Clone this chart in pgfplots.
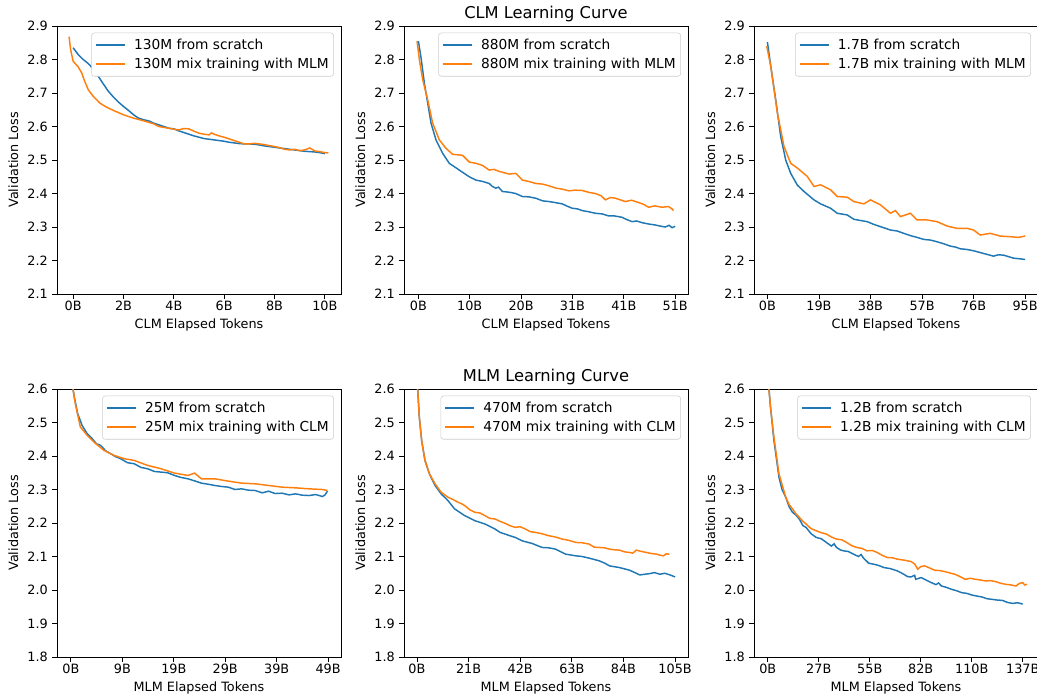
\documentclass[border=0pt]{standalone}
\usepackage{fontspec}
\setmainfont{DejaVu Sans}
\usepackage{pgfplots}
\pgfplotsset{compat=1.18}
\definecolor{tabblue}{HTML}{1F77B4}
\definecolor{taborange}{HTML}{FF7F0E}
\newcommand{\tickfont}{\fontsize{9.6}{11}\selectfont}
\newcommand{\legfont}{\fontsize{10.3}{12}\selectfont}

\pgfplotsset{
  panel/.style={
    scale only axis, width=213pt, height=201pt,
    axis line style={line width=0.6pt},
    tick align=outside, tick pos=left, major tick length=3.4pt,
    every tick/.style={black, line width=0.6pt},
    xtick={0,1,2,3,4,5},
    ylabel={Validation Loss},
    ticklabel style={font=\tickfont},
    xticklabel style={yshift=1.8pt},
    label style={font=\tickfont},
    xlabel style={yshift=0.6pt},
    /pgf/number format/assume math mode=true,
    yticklabel style={/pgf/number format/.cd, fixed, fixed zerofill, precision=1},
    title style={font=\fontsize{12.2}{14}\selectfont, yshift=-6.5pt},
    legend cell align=left,
    legend image code/.code={\draw[#1, line width=1.4pt] (0pt,0pt) -- (22pt,0pt); \path (27pt,0pt);},
    legend style={font=\legfont, draw=black!20, rounded corners=2pt, fill=white,
      at={(0.975,0.975)}, anchor=north east, inner xsep=2.5pt, inner ysep=3pt,
      row sep=3pt, nodes={inner sep=1.2pt}},
  },
  clmrow/.style={ymin=2.1, ymax=2.9, ytick={2.1,2.2,2.3,2.4,2.5,2.6,2.7,2.8,2.9},
    xlabel={CLM Elapsed Tokens}},
  mlmrow/.style={ymin=1.8, ymax=2.6, ytick={1.8,1.9,2.0,2.1,2.2,2.3,2.4,2.5,2.6},
    xlabel={MLM Elapsed Tokens}},
}
\tikzset{
  sblue/.style={draw=tabblue, color=tabblue, line width=1.1pt},
  sorange/.style={draw=taborange, color=taborange, line width=1.1pt},
}

\begin{document}
\begin{tikzpicture}
\path[use as bounding box] (0,0) rectangle (777.75pt,-520.5pt);

% ---- CLM row ----
\begin{axis}[panel, clmrow, at={(42.75pt,-19.5pt)}, anchor=north west,
  xmin=-0.32, xmax=5.32, xticklabels={0B,2B,4B,6B,8B,10B}]
\addplot[sblue, no marks] coordinates {
(0.00,2.835) (0.05,2.825) (0.10,2.815) (0.20,2.800) (0.30,2.788) (0.40,2.772) (0.50,2.750)
(0.60,2.727) (0.70,2.705) (0.80,2.688) (0.90,2.673) (1.00,2.660) (1.10,2.648) (1.20,2.635)
(1.30,2.625) (1.40,2.620) (1.50,2.617) (1.60,2.610) (1.70,2.605) (1.80,2.600) (1.90,2.595)
(2.00,2.593) (2.10,2.587) (2.20,2.582) (2.30,2.577) (2.40,2.572) (2.50,2.568) (2.60,2.564)
(2.70,2.562) (2.80,2.560) (2.90,2.558) (3.00,2.556) (3.10,2.553) (3.20,2.551) (3.30,2.549)
(3.40,2.548) (3.50,2.548) (3.60,2.547) (3.70,2.545) (3.80,2.542) (3.90,2.540) (4.00,2.538)
(4.10,2.536) (4.20,2.534) (4.30,2.532) (4.40,2.530) (4.50,2.528) (4.60,2.526) (4.70,2.525)
(4.80,2.524) (4.90,2.522) (5.00,2.519)
};
\addlegendentry{130M from scratch}
\addplot[sorange, no marks] coordinates {
(-0.08,2.868) (-0.05,2.830) (0.00,2.795) (0.10,2.778) (0.17,2.760) (0.23,2.735) (0.30,2.710)
(0.40,2.690) (0.53,2.670) (0.66,2.658) (0.80,2.648) (1.00,2.635) (1.20,2.625) (1.40,2.617)
(1.60,2.608) (1.70,2.600) (1.85,2.596) (2.00,2.592) (2.10,2.590) (2.20,2.594) (2.30,2.593)
(2.40,2.586) (2.50,2.580) (2.60,2.577) (2.70,2.575) (2.75,2.581) (2.80,2.577) (2.90,2.572)
(3.00,2.568) (3.10,2.563) (3.20,2.558) (3.30,2.553) (3.40,2.548) (3.50,2.548) (3.60,2.550)
(3.70,2.548) (3.80,2.546) (3.90,2.543) (4.00,2.540) (4.10,2.537) (4.20,2.532) (4.30,2.530)
(4.40,2.532) (4.50,2.528) (4.60,2.530) (4.70,2.536) (4.80,2.527) (4.90,2.525) (5.00,2.522)
(5.07,2.521)
};
\addlegendentry{130M mix training with MLM}
\end{axis}

\begin{axis}[panel, clmrow, at={(303pt,-19.5pt)}, anchor=north west,
  xmin=-0.28, xmax=5.25, xticklabels={0B,10B,20B,31B,41B,51B},
  title={CLM Learning Curve}]
\addplot[sblue, no marks] coordinates {
(0.000,2.855) (0.052,2.805) (0.116,2.730) (0.181,2.670) (0.246,2.610) (0.343,2.560)
(0.472,2.520) (0.602,2.490) (0.796,2.470) (0.990,2.450) (1.119,2.440) (1.250,2.436)
(1.378,2.430) (1.440,2.421) (1.507,2.416) (1.560,2.419) (1.636,2.406) (1.760,2.404)
(1.895,2.400) (2.025,2.391) (2.150,2.390) (2.283,2.386) (2.420,2.378) (2.542,2.376)
(2.660,2.373) (2.801,2.369) (2.900,2.362) (2.995,2.356) (3.100,2.354) (3.189,2.349)
(3.300,2.346) (3.448,2.341) (3.580,2.339) (3.706,2.333) (3.820,2.333) (3.965,2.329)
(4.060,2.322) (4.159,2.316) (4.250,2.318) (4.353,2.313) (4.480,2.309) (4.612,2.306)
(4.700,2.303) (4.806,2.300) (4.880,2.305) (4.940,2.298) (5.000,2.302)
};
\addlegendentry{880M from scratch}
\addplot[sorange, no marks] coordinates {
(-0.026,2.855) (0.019,2.800) (0.084,2.740) (0.181,2.680) (0.278,2.610) (0.408,2.560)
(0.537,2.535) (0.666,2.517) (0.860,2.514) (0.990,2.494) (1.120,2.490) (1.248,2.484)
(1.378,2.470) (1.472,2.472) (1.572,2.466) (1.766,2.458) (1.895,2.460) (2.025,2.440)
(2.150,2.436) (2.283,2.430) (2.420,2.428) (2.542,2.423) (2.680,2.416) (2.801,2.413)
(2.930,2.408) (3.060,2.410) (3.189,2.409) (3.330,2.403) (3.448,2.400) (3.560,2.393)
(3.642,2.381) (3.740,2.388) (3.836,2.386) (4.030,2.376) (4.150,2.380) (4.289,2.373)
(4.380,2.368) (4.483,2.359) (4.600,2.363) (4.741,2.359) (4.871,2.361) (4.930,2.355)
(4.968,2.349)
};
\addlegendentry{880M mix training with MLM}
\end{axis}

\begin{axis}[panel, clmrow, at={(565.5pt,-19.5pt)}, anchor=north west,
  xmin=-0.26, xmax=5.25, xticklabels={0B,19B,38B,57B,76B,95B}]
\addplot[sblue, no marks] coordinates {
(0.000,2.852) (0.065,2.780) (0.161,2.680) (0.258,2.570) (0.355,2.500) (0.452,2.460)
(0.581,2.425) (0.710,2.406) (0.903,2.381) (1.032,2.369) (1.226,2.356) (1.355,2.341)
(1.548,2.336) (1.677,2.323) (1.935,2.316) (2.060,2.308) (2.194,2.301) (2.387,2.291)
(2.520,2.288) (2.645,2.281) (2.780,2.274) (2.903,2.269) (3.032,2.263) (3.160,2.261)
(3.290,2.256) (3.420,2.250) (3.548,2.243) (3.650,2.240) (3.742,2.235) (3.870,2.233)
(4.000,2.229) (4.194,2.221) (4.387,2.213) (4.480,2.217) (4.581,2.216) (4.774,2.207)
(4.900,2.205) (5.000,2.203)
};
\addlegendentry{1.7B from scratch}
\addplot[sorange, no marks] coordinates {
(-0.013,2.840) (0.065,2.780) (0.194,2.640) (0.323,2.540) (0.452,2.490) (0.581,2.476)
(0.774,2.451) (0.903,2.421) (1.032,2.426) (1.226,2.411) (1.355,2.391) (1.548,2.389)
(1.677,2.376) (1.871,2.369) (2.000,2.381) (2.194,2.366) (2.387,2.341) (2.484,2.349)
(2.581,2.331) (2.774,2.341) (2.903,2.321) (3.097,2.321) (3.290,2.316) (3.484,2.303)
(3.677,2.296) (3.871,2.296) (4.000,2.291) (4.129,2.276) (4.323,2.281) (4.516,2.273)
(4.710,2.271) (4.871,2.269) (5.000,2.273)
};
\addlegendentry{1.7B mix training with MLM}
\end{axis}

% ---- MLM row ----
\begin{axis}[panel, mlmrow, at={(42.75pt,-291.75pt)}, anchor=north west,
  xmin=-0.27, xmax=5.25, xticklabels={0B,9B,19B,29B,39B,49B}]
\addplot[sblue, no marks] coordinates {
(0.000,2.640) (0.065,2.577) (0.131,2.527) (0.216,2.492) (0.314,2.467) (0.412,2.452)
(0.500,2.436) (0.575,2.432) (0.680,2.415) (0.771,2.407) (0.870,2.398) (0.967,2.392)
(1.100,2.380) (1.229,2.377) (1.360,2.366) (1.490,2.362) (1.620,2.354) (1.752,2.352)
(1.880,2.350) (2.013,2.342) (2.140,2.336) (2.275,2.332) (2.400,2.326) (2.536,2.319)
(2.660,2.316) (2.797,2.312) (2.930,2.309) (3.059,2.307) (3.190,2.300) (3.320,2.302)
(3.450,2.298) (3.582,2.297) (3.720,2.290) (3.843,2.295) (3.970,2.288) (4.105,2.289)
(4.240,2.284) (4.366,2.287) (4.500,2.283) (4.627,2.282) (4.760,2.285) (4.889,2.279)
(4.940,2.284) (4.987,2.295)
};
\addlegendentry{25M from scratch}
\addplot[sorange, no marks] coordinates {
(0.000,2.640) (0.085,2.557) (0.183,2.487) (0.314,2.462) (0.444,2.442) (0.641,2.417)
(0.837,2.402) (1.033,2.392) (1.229,2.387) (1.490,2.372) (1.752,2.362) (2.013,2.349)
(2.275,2.342) (2.405,2.349) (2.536,2.332) (2.797,2.332) (3.059,2.325) (3.320,2.319)
(3.582,2.317) (3.843,2.312) (4.105,2.307) (4.366,2.305) (4.627,2.302) (4.889,2.300)
(4.987,2.297)
};
\addlegendentry{25M mix training with CLM}
\end{axis}

\begin{axis}[panel, mlmrow, at={(303pt,-291.75pt)}, anchor=north west,
  xmin=-0.25, xmax=5.25, xticklabels={0B,21B,42B,63B,84B,105B},
  title={MLM Learning Curve}]
\addplot[sblue, no marks] coordinates {
(0.000,2.640) (0.046,2.517) (0.091,2.447) (0.156,2.387) (0.241,2.347) (0.352,2.312)
(0.469,2.287) (0.600,2.267) (0.730,2.242) (0.926,2.222) (1.121,2.207) (1.317,2.197)
(1.512,2.182) (1.610,2.172) (1.708,2.167) (1.800,2.162) (1.904,2.157) (2.034,2.147)
(2.229,2.139) (2.425,2.127) (2.550,2.126) (2.686,2.122) (2.881,2.107) (3.077,2.102)
(3.200,2.100) (3.338,2.095) (3.533,2.087) (3.640,2.080) (3.729,2.072) (3.924,2.067)
(4.120,2.059) (4.220,2.052) (4.316,2.045) (4.511,2.049) (4.600,2.052) (4.707,2.047)
(4.800,2.050) (4.902,2.045) (5.000,2.039)
};
\addlegendentry{470M from scratch}
\addplot[sorange, no marks] coordinates {
(0.000,2.640) (0.046,2.517) (0.091,2.447) (0.156,2.387) (0.241,2.347) (0.352,2.317)
(0.469,2.292) (0.530,2.285) (0.600,2.277) (0.700,2.270) (0.795,2.262) (0.860,2.258)
(0.926,2.252) (1.020,2.240) (1.121,2.232) (1.220,2.230) (1.317,2.222) (1.410,2.214)
(1.512,2.212) (1.610,2.205) (1.708,2.199) (1.800,2.192) (1.904,2.187) (2.000,2.189)
(2.099,2.182) (2.200,2.174) (2.295,2.172) (2.420,2.168) (2.555,2.162) (2.690,2.158)
(2.816,2.152) (2.950,2.148) (3.077,2.142) (3.200,2.141) (3.338,2.137) (3.430,2.128)
(3.533,2.127) (3.630,2.126) (3.729,2.122) (3.830,2.120) (3.924,2.119) (4.020,2.114)
(4.120,2.112) (4.180,2.110) (4.250,2.119) (4.350,2.115) (4.446,2.112) (4.540,2.109)
(4.641,2.107) (4.710,2.104) (4.772,2.102) (4.830,2.108) (4.889,2.107)
};
\addlegendentry{470M mix training with CLM}
\end{axis}

\begin{axis}[panel, mlmrow, at={(565.5pt,-291.75pt)}, anchor=north west,
  xmin=-0.27, xmax=5.3, xticklabels={0B,27B,55B,82B,110B,137B}]
\addplot[sblue, no marks] coordinates {
(0.000,2.640) (0.053,2.547) (0.120,2.447) (0.170,2.392) (0.219,2.337) (0.280,2.300)
(0.352,2.277) (0.420,2.248) (0.485,2.232) (0.550,2.224) (0.618,2.212) (0.690,2.192)
(0.750,2.187) (0.850,2.168) (0.950,2.157) (1.050,2.153) (1.149,2.142) (1.250,2.131)
(1.300,2.138) (1.348,2.127) (1.420,2.120) (1.481,2.117) (1.580,2.115) (1.680,2.107)
(1.780,2.100) (1.830,2.106) (1.879,2.095) (1.980,2.080) (2.078,2.077) (2.180,2.073)
(2.278,2.067) (2.400,2.064) (2.543,2.057) (2.680,2.046) (2.740,2.040) (2.809,2.039)
(2.880,2.044) (2.900,2.032) (3.008,2.037) (3.100,2.030) (3.207,2.022) (3.300,2.016)
(3.350,2.021) (3.406,2.012) (3.500,2.008) (3.606,2.002) (3.700,1.998) (3.805,1.992)
(3.900,1.990) (4.004,1.985) (4.100,1.982) (4.203,1.979) (4.300,1.974) (4.402,1.972)
(4.500,1.970) (4.602,1.969) (4.700,1.963) (4.801,1.960) (4.900,1.962) (5.000,1.958)
};
\addlegendentry{1.2B from scratch}
\addplot[sorange, no marks] coordinates {
(0.000,2.640) (0.053,2.547) (0.120,2.457) (0.219,2.347) (0.352,2.277) (0.420,2.255)
(0.485,2.242) (0.550,2.228) (0.618,2.217) (0.690,2.205) (0.750,2.197) (0.850,2.183)
(0.950,2.177) (1.050,2.171) (1.149,2.167) (1.250,2.158) (1.348,2.152) (1.450,2.150)
(1.547,2.142) (1.650,2.132) (1.746,2.127) (1.850,2.124) (1.946,2.117) (2.050,2.118)
(2.145,2.112) (2.250,2.103) (2.344,2.097) (2.450,2.096) (2.543,2.092) (2.680,2.089)
(2.809,2.085) (2.880,2.078) (2.942,2.062) (3.000,2.070) (3.074,2.072) (3.170,2.066)
(3.274,2.059) (3.373,2.058) (3.473,2.055) (3.570,2.051) (3.672,2.047) (3.770,2.040)
(3.871,2.032) (3.970,2.035) (4.070,2.032) (4.170,2.030) (4.270,2.027) (4.370,2.028)
(4.469,2.025) (4.570,2.020) (4.668,2.017) (4.770,2.015) (4.867,2.012) (4.940,2.020)
(5.000,2.022) (5.040,2.015) (5.086,2.017)
};
\addlegendentry{1.2B mix training with CLM}
\end{axis}
\end{tikzpicture}
\end{document}
